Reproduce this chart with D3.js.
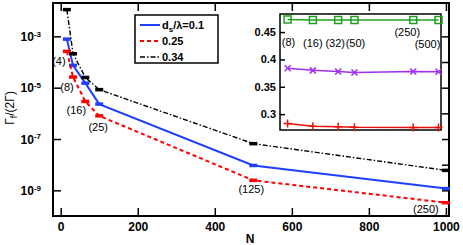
<!DOCTYPE html>
<html>
<head>
<meta charset="utf-8">
<script src="https://cdn.jsdelivr.net/npm/d3@7"></script>
<style>
  body { margin: 0; background: #fff; }
  svg { display: block; font-family: 'Liberation Sans', Arial, sans-serif; }
</style>
</head>
<body>
<svg id="chart"></svg>
<script>
// main panel data
const mainN = [16, 32, 64, 100, 500, 1000];
const gamma01 = [7.8e-4, 7.4e-5, 1.5e-5, 2.3e-6, 9.3e-9, 1.17e-9];
const gamma025 = [2.6e-4, 2.6e-5, 2.9e-6, 8.0e-7, 2.45e-9, 3.3e-10];
const gamma034 = [1.1e-2, 2.1e-4, 2.5e-5, 8.4e-6, 6.6e-8, 6.0e-9];
const mainLabels = ['(4)', '(8)', '(16)', '(25)', '(125)', '(250)'];
const legendLabels = ['0.1', '0.25', '0.34'];
const xTicks = [0, 200, 400, 600, 800, 1000];
const yLabelExps = [-9, -7, -5, -3];
const yRightExps = [-9, -8, -7, -6, -5, -4, -3];

// inset data
const insetN = [8, 16, 32, 50, 250, 500];
const insetGreen = [0.473, 0.472, 0.472, 0.472, 0.472, 0.472];
const insetPurple = [0.384, 0.380, 0.378, 0.376, 0.378, 0.3775];
const insetRed = [0.283, 0.278, 0.277, 0.276, 0.2757, 0.2757];
const insetLabels = ['(8)', '(16)', '(32)', '(50)', '(250)', '(500)'];
const insetTicks = [0.3, 0.35, 0.4, 0.45];

const W = 463, H = 245;
const plot = { left: 53, right: 449, top: 3, bottom: 216 };

const svg = d3.select('#chart').attr('width', W).attr('height', H);

const x = d3.scaleLinear().domain([-20, 1008]).range([plot.left, plot.right]);
const y = d3.scaleLog().domain([1e-10, Math.pow(10, -1.7)]).range([plot.bottom, plot.top]);

// axes with inward ticks
svg.append('g')
  .attr('transform', `translate(0,${plot.bottom})`)
  .call(d3.axisBottom(x).tickValues(xTicks).tickSize(-8).tickPadding(6).tickFormat(d3.format('d')))
  .call((g) => g.select('.domain').remove())
  .call((g) => g.selectAll('line').attr('stroke-width', 1.5))
  .call((g) => g.selectAll('text').attr('font-size', 12).attr('font-weight', 'bold').attr('fill', '#000'));

svg.append('g')
  .attr('transform', `translate(0,${plot.top})`)
  .call(d3.axisTop(x).tickValues(xTicks).tickSize(-8).tickFormat(''))
  .call((g) => g.select('.domain').remove())
  .call((g) => g.selectAll('line').attr('stroke-width', 1.5));

const yLeft = svg.append('g')
  .attr('transform', `translate(${plot.left},0)`)
  .call(d3.axisLeft(y).tickValues(yLabelExps.map((e) => Math.pow(10, e))).tickSize(-8).tickFormat(''))
  .call((g) => g.select('.domain').remove())
  .call((g) => g.selectAll('line').attr('stroke-width', 1.5));

yLeft.selectAll('.tick').each(function (d) {
  const t = d3.select(this).append('text')
    .attr('x', -12).attr('dy', '0.35em')
    .attr('text-anchor', 'end')
    .attr('font-size', 12).attr('font-weight', 'bold').attr('fill', '#000');
  t.append('tspan').text('10');
  t.append('tspan').attr('dy', '-0.55em').attr('font-size', 8).text(Math.round(Math.log10(d)));
});

svg.append('g')
  .attr('transform', `translate(${plot.right},0)`)
  .call(d3.axisRight(y).tickValues(yRightExps.map((e) => Math.pow(10, e))).tickSize(-7).tickFormat(''))
  .call((g) => g.select('.domain').remove())
  .call((g) => g.selectAll('line').attr('stroke-width', 1.5));

svg.append('rect')
  .attr('x', plot.left).attr('y', plot.top)
  .attr('width', plot.right - plot.left).attr('height', plot.bottom - plot.top)
  .attr('fill', 'none').attr('stroke', '#000').attr('stroke-width', 2);

// axis titles
svg.append('text')
  .attr('x', (plot.left + plot.right) / 2 - 1).attr('y', 243)
  .attr('text-anchor', 'middle')
  .attr('font-size', 12).attr('font-weight', 'bold')
  .text('N');

const yTitle = svg.append('text')
  .attr('transform', 'translate(14,108) rotate(-90)')
  .attr('text-anchor', 'middle')
  .attr('font-size', 12);
yTitle.append('tspan').text('Γ');
yTitle.append('tspan').attr('dy', 3).attr('font-size', 9).text('f');
yTitle.append('tspan').attr('dy', -3).text('/(2Γ)');

// main series
const mainSeries = [
  { values: gamma01, color: '#1f3fff', width: 2, dash: null },
  { values: gamma025, color: '#ff0000', width: 2, dash: '4,3' },
  { values: gamma034, color: '#000', width: 1.4, dash: '5,2,1.5,2' },
];

const line = d3.line().x((d) => x(d[0])).y((d) => y(d[1]));

mainSeries.forEach((s) => {
  const pts = mainN.map((n, i) => [n, s.values[i]]);
  svg.append('path')
    .datum(pts)
    .attr('d', line)
    .attr('fill', 'none')
    .attr('stroke', s.color)
    .attr('stroke-width', s.width)
    .attr('stroke-dasharray', s.dash);
  svg.append('g')
    .selectAll('rect')
    .data(pts)
    .join('rect')
    .attr('x', (d) => x(d[0]) - 4)
    .attr('y', (d) => y(d[1]) - 1.75)
    .attr('width', 8)
    .attr('height', 3.5)
    .attr('fill', s.color);
});

// point labels sit below-left of the 0.25 series
const mainLabelOffsets = [[-8, 10], [-6, 10], [-9, 9], [-1, 11], [-2, 9], [-20, 6]];
svg.append('g')
  .selectAll('text')
  .data(mainLabels)
  .join('text')
  .attr('x', (d, i) => x(mainN[i]) + mainLabelOffsets[i][0])
  .attr('y', (d, i) => y(gamma025[i]) + mainLabelOffsets[i][1])
  .attr('dy', '0.35em')
  .attr('text-anchor', 'middle')
  .attr('font-size', 11)
  .text((d) => d);

// legend
const legend = svg.append('g');
legend.append('rect')
  .attr('x', 135).attr('y', 15).attr('width', 83).attr('height', 48)
  .attr('fill', '#fff').attr('stroke', '#000').attr('stroke-width', 1.5);
const legendY = d3.scalePoint().domain(legendLabels).range([25, 57]);
mainSeries.forEach((s, i) => {
  const ly = legendY(legendLabels[i]);
  legend.append('line')
    .attr('x1', 140).attr('x2', 160).attr('y1', ly).attr('y2', ly)
    .attr('stroke', s.color).attr('stroke-width', s.width)
    .attr('stroke-dasharray', s.dash);
  const t = legend.append('text')
    .attr('x', 162).attr('y', ly).attr('dy', '0.35em')
    .attr('font-size', 11).attr('font-weight', 'bold');
  if (i === 0) {
    t.append('tspan').text('d');
    t.append('tspan').attr('dy', 3).attr('font-size', 8).text('s');
    t.append('tspan').attr('dy', -3).text('/λ=' + legendLabels[i]);
  } else {
    t.text(legendLabels[i]);
  }
});

// inset
const inset = { left: 280, right: 441, top: 14, bottom: 130 };
const xi = d3.scaleLog().domain([6.5, 535]).range([inset.left, inset.right]);
const yi = d3.scaleLinear().domain([0.271, 0.483]).range([inset.bottom, inset.top]);

svg.append('rect')
  .attr('x', inset.left).attr('y', inset.top)
  .attr('width', inset.right - inset.left).attr('height', inset.bottom - inset.top)
  .attr('fill', '#fff').attr('stroke', '#000').attr('stroke-width', 1.5);

svg.append('g')
  .attr('transform', `translate(${inset.left},0)`)
  .call(d3.axisLeft(yi).tickValues(insetTicks).tickSize(-5).tickPadding(4).tickFormat((d) => String(d)))
  .call((g) => g.select('.domain').remove())
  .call((g) => g.selectAll('line').attr('stroke-width', 1.5))
  .call((g) => g.selectAll('text').attr('font-size', 11).attr('font-weight', 'bold').attr('fill', '#000'));

const insetSeries = [
  { values: insetGreen, color: '#1ea01e', marker: 'square' },
  { values: insetPurple, color: '#a030f0', marker: 'cross' },
  { values: insetRed, color: '#e8100a', marker: 'plus' },
];

const lineI = d3.line().x((d) => xi(d[0])).y((d) => yi(d[1]));

insetSeries.forEach((s) => {
  const pts = insetN.map((n, i) => [n, s.values[i]]);
  svg.append('path')
    .datum(pts)
    .attr('d', lineI)
    .attr('fill', 'none')
    .attr('stroke', s.color)
    .attr('stroke-width', 1.5);
  const g = svg.append('g').attr('stroke', s.color).attr('stroke-width', 1.5).attr('fill', 'none');
  pts.forEach((p) => {
    const cx = xi(p[0]), cy = yi(p[1]);
    if (s.marker === 'square') {
      g.append('rect').attr('x', cx - 3.5).attr('y', cy - 3.5).attr('width', 7).attr('height', 7);
    } else if (s.marker === 'cross') {
      g.append('path').attr('d', `M${cx - 3},${cy - 3}L${cx + 3},${cy + 3}M${cx - 3},${cy + 3}L${cx + 3},${cy - 3}`);
    } else {
      g.append('path').attr('d', `M${cx - 4},${cy}L${cx + 4},${cy}M${cx},${cy - 4}L${cx},${cy + 4}`);
    }
  });
});

const insetLabelOffsets = [[1, 23], [0, 23], [-3, 23], [1, 23], [-6, 12], [-11, 24]];
svg.append('g')
  .selectAll('text')
  .data(insetLabels)
  .join('text')
  .attr('x', (d, i) => xi(insetN[i]) + insetLabelOffsets[i][0])
  .attr('y', (d, i) => yi(insetGreen[i]) + insetLabelOffsets[i][1])
  .attr('dy', '0.35em')
  .attr('text-anchor', 'middle')
  .attr('font-size', 11)
  .text((d) => d);
</script>
</body>
</html>
